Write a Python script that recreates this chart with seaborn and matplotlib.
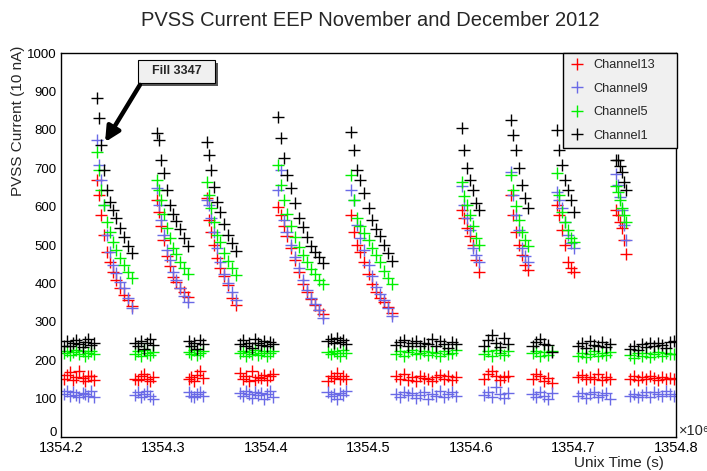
import matplotlib
matplotlib.use("Agg")
import matplotlib.pyplot as plt
import pandas as pd
import seaborn as sns
from matplotlib.patches import Rectangle
from matplotlib.ticker import MultipleLocator, FormatStrFormatter
from matplotlib.transforms import ScaledTranslation

# Readout times (unix time, in units of 1e6 s), shared by all channels.
time_1e6s = [
    # between fills
    1354.203, 1354.206, 1354.209, 1354.212, 1354.215, 1354.218, 1354.221, 1354.223, 1354.226, 1354.229, 1354.232,
    # fill 3347
    1354.235, 1354.237, 1354.239, 1354.242, 1354.245, 1354.248, 1354.251, 1354.254, 1354.258, 1354.261, 1354.265, 1354.269,
    1354.272, 1354.275, 1354.278, 1354.281, 1354.284, 1354.287, 1354.290,
    1354.294, 1354.296, 1354.298, 1354.300, 1354.303, 1354.306, 1354.309, 1354.312, 1354.316, 1354.320, 1354.324,
    1354.325, 1354.327, 1354.330, 1354.333, 1354.336, 1354.339,
    1354.342, 1354.344, 1354.346, 1354.349, 1354.352, 1354.355, 1354.359, 1354.363, 1354.367, 1354.371,
    1354.375, 1354.378, 1354.380, 1354.383, 1354.386, 1354.389, 1354.392, 1354.395, 1354.398, 1354.401, 1354.404, 1354.407,
    1354.412, 1354.415, 1354.418, 1354.420, 1354.424, 1354.428, 1354.432, 1354.436, 1354.440, 1354.444, 1354.448, 1354.452, 1354.456,
    1354.460, 1354.463, 1354.466, 1354.469, 1354.472, 1354.475, 1354.478,
    1354.483, 1354.486, 1354.489, 1354.492, 1354.496, 1354.500, 1354.503, 1354.507, 1354.511, 1354.515, 1354.519, 1354.523,
    1354.527, 1354.531, 1354.535, 1354.539, 1354.542, 1354.546, 1354.550, 1354.554, 1354.558, 1354.562, 1354.566, 1354.570,
    1354.574, 1354.578, 1354.581, 1354.585,
    1354.591, 1354.593, 1354.596, 1354.599, 1354.602, 1354.605, 1354.608,
    1354.613, 1354.617, 1354.620, 1354.624, 1354.628, 1354.632, 1354.636,
    1354.639, 1354.641, 1354.644, 1354.647, 1354.650, 1354.653, 1354.656,
    1354.660, 1354.663, 1354.667, 1354.671, 1354.675, 1354.679,
    1354.684, 1354.686, 1354.689, 1354.692, 1354.695, 1354.698, 1354.700,
    1354.704, 1354.708, 1354.712, 1354.716, 1354.720, 1354.724, 1354.728, 1354.732, 1354.736,
    1354.741, 1354.743, 1354.745, 1354.747, 1354.749, 1354.751,
    1354.755, 1354.759, 1354.763, 1354.767, 1354.771, 1354.775, 1354.779, 1354.782, 1354.786, 1354.790, 1354.794, 1354.798,
]

# PVSS currents in units of 10 nA.
channel13 = [
    150, 162, 168, 148, 157, 171, 153, 146, 160, 158, 149,
    669, 630, 578, 526, 482, 456, 430, 409, 388, 370, 357, 341,
    152, 148, 159, 164, 151, 147, 156,
    617, 586, 549, 513, 471, 445, 417, 404, 388, 378, 365,
    150, 155, 147, 161, 173, 154,
    622, 565, 534, 500, 466, 440, 419, 396, 362, 344,
    167, 152, 160, 145, 171, 149, 156, 153, 162, 148, 158, 165,
    599, 578, 549, 523, 492, 461, 430, 398, 378, 359, 344, 331, 320,
    147, 160, 153, 166, 150, 158, 152,
    578, 534, 500, 482, 456, 424, 398, 378, 362, 352, 339, 323,
    158, 152, 163, 149, 155, 147, 160, 153, 150, 145, 157, 162, 151, 159, 148, 156,
    591, 570, 544, 523, 500, 461, 430,
    151, 165, 172, 158, 149, 155, 160,
    630, 578, 534, 500, 474, 448, 435,
    152, 164, 158, 147, 154, 141,
    604, 578, 539, 500, 456, 440, 430,
    155, 161, 150, 157, 152, 163, 148, 156, 151,
    591, 578, 560, 544, 513, 477,
    152, 158, 148, 155, 150, 160, 153, 149, 157, 151, 154, 150,
]
channel9 = [
    112, 120, 106, 117, 109, 103, 115, 111, 108, 119, 105,
    773, 708, 669, 604, 526, 482, 448, 427, 404, 388, 362, 336,
    110, 118, 104, 113, 121, 107, 100,
    648, 604, 565, 526, 487, 461, 430, 409, 388, 367, 352,
    116, 108, 103, 112, 118, 106,
    617, 604, 570, 534, 492, 456, 424, 401, 378, 357,
    115, 107, 120, 112, 102, 117, 109, 114, 98, 111, 119, 105,
    643, 695, 565, 534, 500, 469, 440, 409, 383, 362, 346, 331, 310,
    118, 108, 113, 99, 115, 110, 121,
    643, 617, 552, 518, 487, 448, 419, 391, 372, 357, 336, 315,
    112, 104, 118, 109, 115, 101, 110, 116, 98, 113, 107, 119, 103, 111, 117, 106,
    654, 604, 570, 539, 492, 474, 456,
    110, 118, 104, 131, 112, 101, 115,
    690, 630, 578, 539, 492, 471, 456,
    112, 103, 117, 108, 99, 114,
    638, 617, 596, 560, 526, 505, 492,
    108, 115, 101, 112, 118, 104, 110, 114, 99,
    685, 656, 625, 591, 552, 513,
    107, 113, 103, 110, 116, 105, 118, 112, 108, 121, 111, 106,
]
channel5 = [
    218, 224, 214, 221, 226, 216, 223, 212, 219, 225, 215,
    742, 695, 643, 604, 560, 534, 508, 487, 466, 448, 430, 414,
    217, 223, 211, 226, 219, 214, 222,
    669, 643, 617, 581, 544, 518, 492, 477, 456, 440, 424,
    221, 215, 226, 213, 218, 224,
    664, 630, 596, 560, 526, 508, 479, 458, 440, 422,
    219, 225, 212, 222, 216, 227, 214, 220, 224, 211, 218, 223,
    708, 656, 617, 581, 549, 521, 495, 474, 456, 438, 424, 409, 398,
    221, 215, 225, 219, 212, 226, 218,
    682, 617, 570, 549, 531, 513, 492, 474, 456, 432, 414, 398,
    217, 224, 212, 221, 227, 215, 219, 225, 213, 222, 218, 210, 223, 216, 220, 226,
    664, 628, 604, 578, 549, 518, 500,
    216, 224, 212, 226, 219, 213, 223,
    682, 643, 601, 565, 534, 513, 497,
    218, 225, 212, 221, 214, 223,
    687, 630, 586, 560, 539, 518, 508,
    212, 220, 208, 217, 223, 210, 218, 214, 221,
    654, 638, 617, 596, 578, 560,
    214, 207, 218, 211, 220, 209, 216, 222, 212, 219, 215, 217,
]
channel1 = [
    238, 250, 236, 245, 252, 241, 235, 248, 254, 240, 246,
    883, 831, 760, 695, 643, 612, 591, 570, 544, 521, 497, 479,
    244, 238, 251, 230, 246, 255, 240,
    792, 773, 721, 687, 643, 604, 581, 562, 542, 518, 497,
    249, 236, 244, 228, 252, 241,
    768, 734, 695, 651, 612, 586, 555, 526, 505, 484,
    241, 252, 237, 246, 233, 255, 244, 239, 250, 236, 247, 242,
    833, 779, 727, 682, 648, 609, 570, 547, 521, 497, 482, 469, 453,
    250, 256, 244, 258, 247, 252, 243,
    794, 747, 695, 669, 635, 596, 565, 542, 523, 500, 479, 458,
    240, 248, 253, 236, 244, 251, 238, 246, 242, 255, 237, 249, 241, 232, 247, 243,
    805, 747, 700, 669, 643, 609, 591,
    238, 252, 266, 244, 235, 257, 241,
    825, 786, 747, 700, 656, 622, 596,
    236, 248, 255, 243, 239, 221,
    799, 747, 708, 669, 643, 617, 586,
    238, 244, 233, 249, 240, 236, 247, 235, 242,
    721, 721, 706, 690, 664, 643,
    230, 238, 226, 242, 235, 244, 237, 246, 240, 233, 248, 250,
]

channel_names = ["Channel13", "Channel9", "Channel5", "Channel1"]
channel_values = [channel13, channel9, channel5, channel1]
colors = ["#ff0000", "#6a6ae6", "#00f000", "#000000"]

df = pd.concat(
    [pd.DataFrame({"time": time_1e6s, "current": vals, "channel": name})
     for name, vals in zip(channel_names, channel_values)],
    ignore_index=True,
)

sns.set_theme(style="white")
plt.rcParams["font.family"] = ["Liberation Sans", "DejaVu Sans"]

W, H = 707, 471
fig = plt.figure(figsize=(W / 100, H / 100), dpi=100)
ax = fig.add_axes([61 / W, 1 - 437 / H, 615 / W, 384 / H])

sns.scatterplot(
    data=df, x="time", y="current", hue="channel",
    hue_order=channel_names, palette=dict(zip(channel_names, colors)),
    marker="+", s=75, linewidth=1.0, ax=ax,
)

ax.set_xlim(1354.2, 1354.8)
ax.set_ylim(0, 1000)
ax.set_xlabel("")
ax.set_ylabel("")
ax.xaxis.set_major_locator(MultipleLocator(0.1))
ax.xaxis.set_minor_locator(MultipleLocator(0.02))
ax.xaxis.set_major_formatter(FormatStrFormatter("%.1f"))
ax.yaxis.set_major_locator(MultipleLocator(100))
ax.yaxis.set_minor_locator(MultipleLocator(20))
ax.tick_params(axis="both", which="both", direction="in", top=False, right=False,
               colors="black", width=0.9)
ax.tick_params(axis="x", which="major", length=8.5, labelsize=10.5, pad=3)
ax.tick_params(axis="x", which="minor", length=4)
ax.tick_params(axis="y", which="major", length=13, labelsize=9.5, pad=3)
ax.tick_params(axis="y", which="minor", length=6.5)
for sp in ax.spines.values():
    sp.set_visible(True)
    sp.set_color("black")
    sp.set_linewidth(1.0)

sns.move_legend(
    ax, "upper left", bbox_to_anchor=(0.8163, 0.5, 0.1854, 0.5), mode="expand",
    title=None, frameon=True, fancybox=False, framealpha=1, edgecolor="black",
    facecolor="#f0f0f0", fontsize=9.2, labelspacing=0.9,
    handlelength=1.2, handletextpad=0.7, borderpad=0.5, borderaxespad=0,
    markerscale=1.0,
)
leg = ax.get_legend()
leg.get_frame().set_linewidth(1.0)

# "Fill 3347" label with shadow and arrow
ax.add_patch(Rectangle((1354.2781, 914), 0.0751, 60, facecolor="#555555",
                       edgecolor="none", zorder=5))
ax.add_patch(Rectangle((1354.2751, 922), 0.0751, 60, facecolor="#f0f0f0",
                       edgecolor="black", linewidth=0.8, zorder=6))
ax.text(1354.3127, 952, "Fill 3347", ha="center", va="center",
        fontsize=9, fontweight="bold", zorder=7)
ax.annotate("", xy=(1354.243, 768), xytext=(1354.277, 917),
            arrowprops=dict(arrowstyle="-|>", lw=3.2, color="black",
                            mutation_scale=22, shrinkA=0, shrinkB=0),
            zorder=7)

fig.text(0.523, 1 - 21 / H, "PVSS Current EEP November and December 2012",
         ha="center", va="center", fontsize=14.5)
fig.text(18 / W, 1 - 46 / H, "PVSS Current (10 nA)", rotation=90,
         ha="center", va="top", fontsize=11)
fig.text(664 / W, 1 - 463 / H, "Unix Time (s)", ha="right", va="center",
         fontsize=11)
fig.text(679 / W, 1 - 431 / H, "\u00d710\u2076", ha="left", va="center",
         fontsize=10.5)

# lift the "0" label on the y axis a little so it clears the x labels
fig.canvas.draw()
for tick in ax.yaxis.get_major_ticks():
    if tick.label1.get_text() == "0":
        tick.label1.set_transform(
            tick.label1.get_transform()
            + ScaledTranslation(0, 5 / 100, fig.dpi_scale_trans)
        )

fig.savefig("out.png", dpi=100)
